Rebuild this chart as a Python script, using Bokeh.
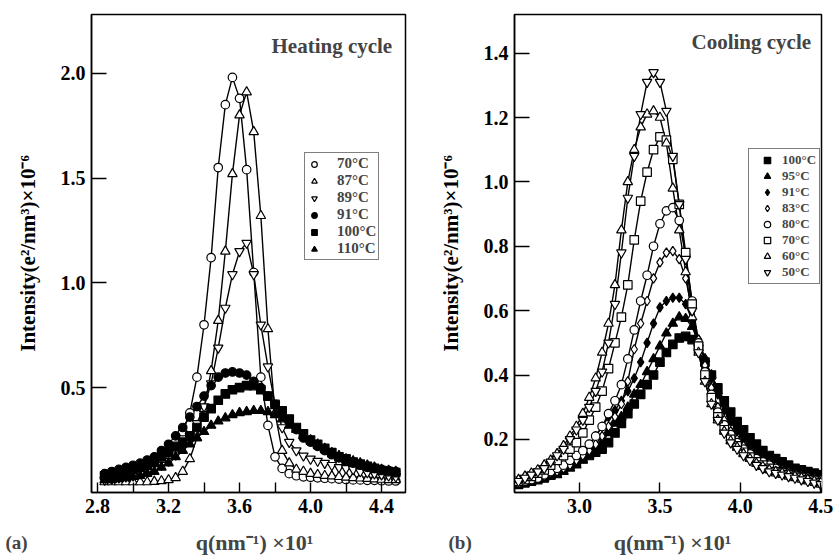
from bokeh.plotting import figure
from bokeh.models import FixedTicker, Legend, LegendItem, Label, Range1d
from bokeh.layouts import row, column
from bokeh.embed import file_html
from bokeh.resources import INLINE

FONT = "Liberation Serif"

# ---------------- data: heating cycle (a) ----------------
q_heat = [2.84, 2.88, 2.92, 2.96, 3.00, 3.04, 3.08, 3.12, 3.16, 3.20,
          3.24, 3.28, 3.32, 3.36, 3.40, 3.44, 3.48, 3.52, 3.56, 3.60,
          3.64, 3.68, 3.72, 3.76, 3.80, 3.84, 3.88, 3.92, 3.96, 4.00,
          4.04, 4.08, 4.12, 4.16, 4.20, 4.24, 4.28, 4.32, 4.36, 4.40,
          4.44, 4.48]
heat_70 = [0.07, 0.075, 0.08, 0.09, 0.10, 0.115, 0.13, 0.15, 0.17, 0.20,
           0.24, 0.29, 0.38, 0.55, 0.80, 1.12, 1.55, 1.85, 1.98, 1.88,
           1.54, 1.05, 0.55, 0.32, 0.17, 0.115, 0.09, 0.08, 0.075, 0.073,
           0.07, 0.068, 0.066, 0.064, 0.062, 0.06, 0.06, 0.058, 0.058, 0.056,
           0.055, 0.055]
heat_87 = [0.05, 0.05, 0.05, 0.05, 0.05, 0.05, 0.05, 0.052, 0.055, 0.06,
           0.07, 0.10, 0.16, 0.26, 0.40, 0.58, 0.82, 1.15, 1.52, 1.80,
           1.91, 1.72, 1.32, 0.78, 0.38, 0.20, 0.14, 0.11, 0.10, 0.09,
           0.085, 0.08, 0.078, 0.075, 0.072, 0.07, 0.068, 0.066, 0.064, 0.062,
           0.06, 0.06]
heat_89 = [0.06, 0.065, 0.07, 0.075, 0.08, 0.09, 0.10, 0.11, 0.13, 0.15,
           0.18, 0.22, 0.27, 0.33, 0.41, 0.52, 0.69, 0.88, 1.04, 1.15,
           1.19, 1.04, 0.80, 0.60, 0.42, 0.31, 0.24, 0.20, 0.175, 0.16,
           0.15, 0.14, 0.13, 0.12, 0.115, 0.11, 0.10, 0.095, 0.09, 0.085,
           0.08, 0.075]
heat_91 = [0.09, 0.10, 0.11, 0.12, 0.13, 0.14, 0.155, 0.17, 0.20, 0.23,
           0.27, 0.31, 0.36, 0.41, 0.46, 0.51, 0.55, 0.57, 0.575, 0.57,
           0.56, 0.53, 0.50, 0.46, 0.42, 0.38, 0.34, 0.30, 0.26, 0.24,
           0.22, 0.20, 0.18, 0.165, 0.15, 0.14, 0.13, 0.12, 0.115, 0.11,
           0.105, 0.10]
heat_100 = [0.08, 0.085, 0.09, 0.10, 0.11, 0.12, 0.13, 0.15, 0.17, 0.19,
            0.22, 0.24, 0.27, 0.31, 0.36, 0.40, 0.44, 0.47, 0.49, 0.50,
            0.51, 0.51, 0.49, 0.46, 0.42, 0.39, 0.35, 0.31, 0.28, 0.25,
            0.23, 0.21, 0.19, 0.17, 0.16, 0.145, 0.135, 0.125, 0.115, 0.105,
            0.10, 0.095]
heat_110 = [0.06, 0.06, 0.065, 0.07, 0.075, 0.08, 0.09, 0.10, 0.12, 0.14,
            0.17, 0.20, 0.23, 0.26, 0.29, 0.32, 0.34, 0.355, 0.37, 0.38,
            0.385, 0.39, 0.39, 0.385, 0.37, 0.35, 0.32, 0.30, 0.27, 0.25,
            0.23, 0.21, 0.19, 0.175, 0.16, 0.15, 0.14, 0.13, 0.12, 0.11,
            0.105, 0.10]
heat_labels = ["70°C", "87°C", "89°C", "91°C", "100°C", "110°C"]
heat_xticks = [2.8, 3.2, 3.6, 4.0, 4.4]
heat_xticklabels = ["2.8", "3.2", "3.6", "4.0", "4.4"]
heat_xminor = [3.0, 3.4, 3.8, 4.2]
heat_yticks = [0.5, 1.0, 1.5, 2.0]
heat_yticklabels = ["0.5", "1.0", "1.5", "2.0"]

# ---------------- data: cooling cycle (b) ----------------
q_cool = [2.62, 2.66, 2.70, 2.74, 2.78, 2.82, 2.86, 2.90, 2.94, 2.98,
          3.02, 3.06, 3.10, 3.14, 3.18, 3.22, 3.26, 3.30, 3.34, 3.38,
          3.42, 3.46, 3.50, 3.54, 3.58, 3.62, 3.66, 3.70, 3.74, 3.78,
          3.82, 3.86, 3.90, 3.94, 3.98, 4.02, 4.06, 4.10, 4.14, 4.18,
          4.22, 4.26, 4.30, 4.34, 4.38, 4.42, 4.46, 4.50]
cool_100 = [0.06, 0.065, 0.07, 0.075, 0.08, 0.09, 0.10, 0.11, 0.12, 0.13,
            0.14, 0.15, 0.16, 0.17, 0.19, 0.22, 0.25, 0.28, 0.31, 0.34,
            0.37, 0.40, 0.44, 0.47, 0.495, 0.515, 0.52, 0.51, 0.48, 0.44,
            0.40, 0.36, 0.32, 0.285, 0.255, 0.23, 0.205, 0.185, 0.165, 0.15,
            0.14, 0.13, 0.12, 0.11, 0.105, 0.10, 0.095, 0.09]
cool_95 = [0.06, 0.065, 0.07, 0.075, 0.08, 0.085, 0.09, 0.10, 0.11, 0.12,
           0.135, 0.15, 0.17, 0.19, 0.22, 0.25, 0.27, 0.30, 0.34, 0.37,
           0.41, 0.45, 0.49, 0.53, 0.56, 0.58, 0.575, 0.55, 0.50, 0.45,
           0.40, 0.35, 0.31, 0.27, 0.24, 0.215, 0.19, 0.17, 0.155, 0.14,
           0.13, 0.12, 0.115, 0.105, 0.10, 0.095, 0.09, 0.085]
cool_91 = [0.065, 0.07, 0.075, 0.08, 0.085, 0.09, 0.10, 0.11, 0.12, 0.14,
           0.16, 0.18, 0.21, 0.24, 0.27, 0.29, 0.32, 0.35, 0.39, 0.44,
           0.50, 0.56, 0.61, 0.63, 0.64, 0.64, 0.62, 0.57, 0.51, 0.45,
           0.39, 0.34, 0.29, 0.255, 0.225, 0.20, 0.18, 0.16, 0.145, 0.135,
           0.125, 0.115, 0.11, 0.10, 0.095, 0.09, 0.085, 0.08]
cool_83 = [0.065, 0.07, 0.075, 0.08, 0.085, 0.095, 0.10, 0.11, 0.12, 0.135,
           0.15, 0.165, 0.185, 0.21, 0.24, 0.27, 0.31, 0.38, 0.48, 0.56,
           0.63, 0.70, 0.75, 0.78, 0.785, 0.76, 0.70, 0.60, 0.51, 0.43,
           0.36, 0.30, 0.26, 0.225, 0.20, 0.18, 0.16, 0.145, 0.135, 0.125,
           0.115, 0.105, 0.10, 0.095, 0.09, 0.085, 0.08, 0.075]
cool_80 = [0.065, 0.07, 0.075, 0.08, 0.09, 0.10, 0.11, 0.12, 0.135, 0.15,
           0.165, 0.185, 0.21, 0.24, 0.28, 0.32, 0.37, 0.45, 0.54, 0.63,
           0.71, 0.80, 0.87, 0.91, 0.92, 0.88, 0.77, 0.63, 0.50, 0.41,
           0.34, 0.285, 0.245, 0.215, 0.19, 0.17, 0.155, 0.14, 0.13, 0.12,
           0.11, 0.10, 0.095, 0.09, 0.085, 0.08, 0.075, 0.07]
cool_70 = [0.07, 0.075, 0.085, 0.095, 0.105, 0.12, 0.135, 0.15, 0.17, 0.19,
           0.22, 0.26, 0.30, 0.35, 0.42, 0.50, 0.58, 0.68, 0.82, 0.94,
           1.03, 1.10, 1.14, 1.13, 1.07, 0.93, 0.78, 0.62, 0.49, 0.40,
           0.33, 0.27, 0.23, 0.20, 0.18, 0.16, 0.145, 0.13, 0.12, 0.11,
           0.10, 0.095, 0.09, 0.085, 0.08, 0.075, 0.07, 0.065]
cool_60 = [0.075, 0.085, 0.095, 0.105, 0.12, 0.135, 0.155, 0.18, 0.21, 0.24,
           0.28, 0.33, 0.39, 0.47, 0.56, 0.68, 0.85, 1.00, 1.10, 1.17,
           1.21, 1.22, 1.20, 1.12, 0.98, 0.85, 0.72, 0.58, 0.47, 0.38,
           0.31, 0.26, 0.225, 0.195, 0.175, 0.155, 0.14, 0.125, 0.115, 0.105,
           0.10, 0.095, 0.09, 0.085, 0.08, 0.075, 0.07, 0.065]
cool_50 = [0.07, 0.08, 0.09, 0.10, 0.11, 0.13, 0.15, 0.17, 0.20, 0.23,
           0.26, 0.30, 0.35, 0.41, 0.50, 0.62, 0.78, 0.95, 1.08, 1.21,
           1.31, 1.34, 1.31, 1.22, 1.08, 0.93, 0.76, 0.60, 0.47, 0.38,
           0.31, 0.26, 0.22, 0.19, 0.17, 0.15, 0.135, 0.12, 0.11, 0.10,
           0.095, 0.09, 0.085, 0.08, 0.075, 0.07, 0.065, 0.06]
cool_labels = ["100°C", "95°C", "91°C", "83°C", "80°C", "70°C", "60°C", "50°C"]
cool_xticks = [3.0, 3.5, 4.0, 4.5]
cool_xticklabels = ["3.0", "3.5", "4.0", "4.5"]
cool_yticks = [0.2, 0.4, 0.6, 0.8, 1.0, 1.2, 1.4]
cool_yticklabels = ["0.2", "0.4", "0.6", "0.8", "1.0", "1.2", "1.4"]

Y_LABEL = "Intensity(e²/nm³)×10⁻⁶"
X_LABEL = "q(nm⁻¹) ×10¹"

# marker styles: (marker, filled)
heat_styles = [("circle", False), ("triangle", False), ("inverted_triangle", False),
               ("circle", True), ("square", True), ("triangle", True)]
cool_styles = [("square", True), ("triangle", True), ("diamond", True), ("diamond", False),
               ("circle", False), ("square", False), ("triangle", False), ("inverted_triangle", False)]


def make_panel(q, series, labels, styles, x_range, y_range, xticks, xlabels, xminor,
               yticks, ylabels, width, b_left, b_right, legend_loc, legend_font,
               legend_row, legend_glyph_w, legend_standoff, legend_pad):
    p = figure(width=width, height=524, x_range=Range1d(*x_range), y_range=Range1d(*y_range),
               output_backend="svg", toolbar_location=None,
               min_border_left=b_left, min_border_right=b_right,
               min_border_top=14, min_border_bottom=32)
    p.background_fill_color = "white"
    p.border_fill_color = "white"
    p.outline_line_color = "black"
    p.outline_line_width = 1.5
    p.xgrid.visible = False
    p.ygrid.visible = False

    p.xaxis.ticker = FixedTicker(ticks=xticks, minor_ticks=xminor)
    p.xaxis.major_label_overrides = {t: s for t, s in zip(xticks, xlabels)}
    p.yaxis.ticker = FixedTicker(ticks=yticks, minor_ticks=[])
    p.yaxis.major_label_overrides = {t: s for t, s in zip(yticks, ylabels)}
    for ax in (p.xaxis[0], p.yaxis[0]):
        ax.axis_line_color = "black"
        ax.axis_line_width = 1.5
        ax.major_tick_out = 0
        ax.minor_tick_out = 0
        ax.major_tick_line_width = 1.4
        ax.minor_tick_line_width = 1.4
        ax.major_label_text_font = FONT
        ax.major_label_text_font_size = "20px"
        ax.major_label_text_font_style = "bold"
        ax.major_label_text_color = "black"
        ax.axis_label_text_font = FONT
        ax.axis_label_text_font_size = "21px"
        ax.axis_label_text_font_style = "bold"
        ax.axis_label_text_color = "black"
    p.xaxis.major_tick_in = 10
    p.xaxis.minor_tick_in = 10
    p.yaxis.major_tick_in = 15
    p.yaxis.minor_tick_in = 0
    p.xaxis.major_label_standoff = 6
    p.yaxis.major_label_standoff = 6
    p.yaxis.axis_label = Y_LABEL
    p.yaxis.axis_label_standoff = 18

    items = []
    for ys in series:
        p.line(q, ys, line_color="black", line_width=1.4)
    for ys, lab, (mk, filled) in zip(series, labels, styles):
        size = 8.5 if mk in ("circle", "square") else 9.5
        r = p.scatter(q, ys, marker=mk, size=size, line_color="black", line_width=1.2,
                      fill_color="black" if filled else "white")
        items.append(LegendItem(label=lab, renderers=[r]))

    leg = Legend(items=items, location=legend_loc, orientation="vertical")
    leg.border_line_color = "black"
    leg.border_line_width = 1.4
    leg.background_fill_color = "white"
    leg.background_fill_alpha = 1.0
    leg.label_text_font = FONT
    leg.label_text_font_size = legend_font
    leg.label_text_font_style = "bold"
    leg.label_height = legend_row
    leg.glyph_height = legend_row
    leg.glyph_width = legend_glyph_w
    leg.label_standoff = legend_standoff
    leg.spacing = 0
    leg.padding = legend_pad
    leg.margin = 0
    p.add_layout(leg)
    return p


p1 = make_panel(q_heat, [heat_70, heat_87, heat_89, heat_91, heat_100, heat_110],
                heat_labels, heat_styles, (2.766, 4.535), (0.0, 2.28),
                heat_xticks, heat_xticklabels, heat_xminor,
                heat_yticks, heat_yticklabels, 422, 91, 17,
                (213, 232), "15px", 16, 14, 16, 2)
p1.add_layout(Label(x=4.46, y=2.13, text="Heating cycle", text_font=FONT,
                    text_font_size="21px", text_font_style="bold",
                    text_align="right", text_baseline="middle"))

p2 = make_panel(q_cool, [cool_100, cool_95, cool_91, cool_83, cool_80, cool_70, cool_60, cool_50],
                cool_labels, cool_styles, (2.595, 4.505), (0.035, 1.52),
                cool_xticks, cool_xticklabels, [],
                cool_yticks, cool_yticklabels, 412, 92, 13,
                (234, 208), "13px", 16, 30, 0, 3)
p2.add_layout(Label(x=4.44, y=1.435, text="Cooling cycle", text_font=FONT,
                    text_font_size="21px", text_font_style="bold",
                    text_align="right", text_baseline="middle"))

# strip holding the panel letters and the shared x-axis titles (pixel-based layout)
strip = figure(width=834, height=32, x_range=Range1d(0, 834), y_range=Range1d(0, 32),
               output_backend="svg", toolbar_location=None,
               x_axis_location=None, y_axis_location=None, min_border=0)
strip.outline_line_color = None
strip.xgrid.visible = False
strip.ygrid.visible = False
strip.background_fill_color = "white"
strip.border_fill_color = "white"
for tx, xx, yy, al, fs in [("(a)", 5, 14, "left", "19px"), (X_LABEL, 254, 14, "center", "22px"),
                           ("(b)", 448, 14, "left", "19px"), (X_LABEL, 672, 14, "center", "22px")]:
    strip.add_layout(Label(x=xx, y=yy, text=tx, text_font=FONT, text_font_size=fs,
                           text_font_style="bold", text_align=al, text_baseline="middle"))

layout = column(row(p1, p2), strip)
open("out.html", "w").write(file_html(layout, INLINE))
